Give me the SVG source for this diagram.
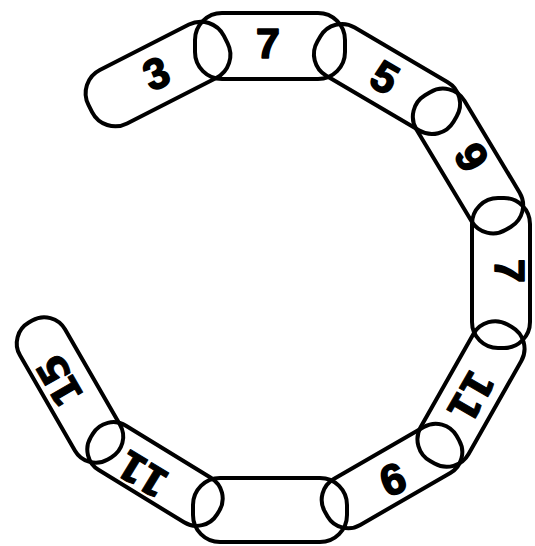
<svg xmlns="http://www.w3.org/2000/svg" width="535" height="546" viewBox="0 0 535 546">
<style>
.lk{fill:none;stroke:#000;stroke-width:4}
.num{font-family:"Liberation Sans",Arial,sans-serif;font-weight:bold;font-size:43px;text-anchor:middle;fill:#000;stroke:#000;stroke-width:1.6;stroke-linejoin:round}
.num2{font-family:"DejaVu Sans","Liberation Sans",sans-serif;font-weight:bold;font-size:40px;text-anchor:middle;fill:#000;stroke:#000;stroke-width:1;stroke-linejoin:round;letter-spacing:-3px}
</style>
<rect width="535" height="546" fill="#fff"/>
<g id="link-3">
<rect class="lk" x="-76" y="-30" width="152" height="60" rx="26" ry="26" transform="translate(158,74) rotate(-27)"/>
<text class="num" x="0" y="15.4" transform="translate(156,73) rotate(-22)">3</text>
</g>
<g id="link-7-top">
<rect class="lk" x="-75" y="-33" width="150" height="66" rx="27" ry="27" transform="translate(270,46)"/>
<text class="num" x="0" y="15.4" transform="translate(268,43)">7</text>
</g>
<g id="link-5">
<rect class="lk" x="-79" y="-28" width="158" height="56" rx="25" ry="25" transform="translate(387,79) rotate(30.5)"/>
<text class="num" x="0" y="15.4" transform="translate(385,77) rotate(30)">5</text>
</g>
<g id="link-9-upper">
<rect class="lk" x="-78.5" y="-28" width="157" height="56" rx="25" ry="25" transform="translate(468,161) rotate(59)"/>
<text class="num" x="0" y="15.4" transform="translate(472,157) rotate(60)">9</text>
</g>
<g id="link-7-right">
<rect class="lk" x="-75" y="-29" width="150" height="58" rx="26" ry="26" transform="translate(501,273) rotate(90)"/>
<text class="num" x="0" y="15.4" transform="translate(510,271) rotate(90)">7</text>
</g>
<g id="link-11-right">
<rect class="lk" x="-78.5" y="-27.5" width="157" height="55" rx="25" ry="25" transform="translate(471,394) rotate(119.5)"/>
<text class="num2" x="0" y="14.6" transform="translate(472,395) rotate(120)">11</text>
</g>
<g id="link-9-lower">
<rect class="lk" x="-76" y="-26.5" width="152" height="53" rx="24" ry="24" transform="translate(392,476) rotate(150)"/>
<text class="num" x="0" y="15.4" transform="translate(393,480) rotate(160)">9</text>
</g>
<g id="link-blank">
<rect class="lk" x="-77" y="-32" width="154" height="64" rx="27" ry="27" transform="translate(270,510)"/>
</g>
<g id="link-11-left">
<rect class="lk" x="-74" y="-26" width="148" height="52" rx="24" ry="24" transform="translate(155,474) rotate(31.5)"/>
<text class="num2" x="0" y="14.6" transform="translate(144,475) rotate(211.5)">11</text>
</g>
<g id="link-15">
<rect class="lk" x="-79" y="-26" width="158" height="52" rx="24" ry="24" transform="translate(70,390) rotate(60)"/>
<text class="num2" x="0" y="14.6" transform="translate(60,382) rotate(240)">15</text>
</g>
</svg>
